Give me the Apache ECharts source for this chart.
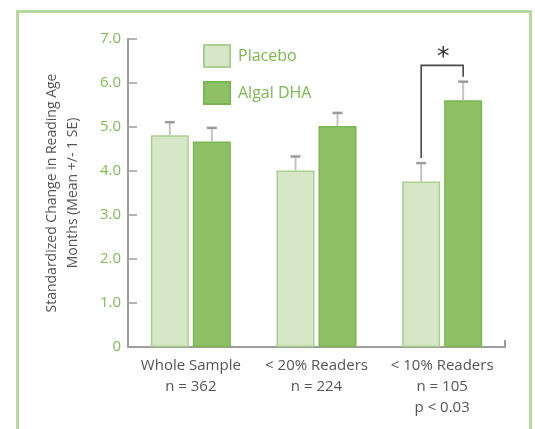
<!DOCTYPE html>
<html>
<head>
<meta charset="utf-8">
<script src="https://cdn.jsdelivr.net/npm/echarts@6/dist/echarts.min.js"></script>
<style>
  html, body { margin: 0; padding: 0; background: #fff; }
  #chart { width: 535px; height: 429px; }
</style>
</head>
<body>
<div id="chart"></div>
<script>
// Reading-age outcomes by reader subgroup
const categories = ['Whole Sample\nn = 362', '< 20% Readers\nn = 224', '< 10% Readers\nn = 105\np < 0.03'];
const placebo = [4.81, 4.01, 3.76];
const algalDha = [4.67, 5.02, 5.61];
const placeboSE = [0.30, 0.32, 0.42];
const algalSE = [0.31, 0.30, 0.42];
const yTicks = [0, 1, 2, 3, 4, 5, 6, 7];
// significance bracket over the third group
const sigGroup = 2;
const sigLevel = 6.4;
const sigLabel = '*';

const FONT = '"Open Sans", "Noto Sans", sans-serif';
const BAR_W = 38;
const BAR_GAP = 4;
const OFFSET = (BAR_W + BAR_GAP) / 2;

const chart = echarts.init(document.getElementById('chart'), null, { renderer: 'canvas' });

function errorSeries(means, ses, sign) {
  return {
    type: 'custom',
    silent: true,
    z: 5,
    data: means.map((m, i) => [i, m, m + ses[i]]),
    renderItem: function (params, api) {
      const base = api.coord([api.value(0), api.value(1)]);
      const top = api.coord([api.value(0), api.value(2)]);
      const x = base[0] + sign * OFFSET;
      return {
        type: 'group',
        children: [
          { type: 'line', shape: { x1: x, y1: base[1], x2: x, y2: top[1] },
            style: { stroke: '#c4c4c4', lineWidth: 2 } },
          { type: 'line', shape: { x1: x - 5, y1: top[1], x2: x + 5, y2: top[1] },
            style: { stroke: '#9c9c9c', lineWidth: 2.5 } }
        ]
      };
    }
  };
}

const bracketSeries = {
  type: 'custom',
  silent: true,
  z: 6,
  data: [[sigGroup, sigLevel, placebo[sigGroup] + placeboSE[sigGroup], algalDha[sigGroup] + algalSE[sigGroup]]],
  renderItem: function (params, api) {
    const ci = api.value(0);
    const lvl = api.coord([ci, api.value(1)]);
    const lTop = api.coord([ci, api.value(2)]);
    const rTop = api.coord([ci, api.value(3)]);
    const xl = lvl[0] - OFFSET, xr = lvl[0] + OFFSET;
    const y = lvl[1];
    return {
      type: 'group',
      children: [
        { type: 'polyline',
          shape: { points: [[xl, lTop[1] - 5], [xl, y], [xr, y], [xr, rTop[1] - 5]] },
          style: { stroke: '#4a4a4a', lineWidth: 1.6, fill: null } },
        { type: 'text',
          style: { text: sigLabel, x: lvl[0] + 1, y: y + 5, align: 'center', verticalAlign: 'bottom',
                   fill: '#333', font: 'normal 25px "DejaVu Sans", ' + FONT } }
      ]
    };
  }
};

chart.setOption({
  animation: false,
  backgroundColor: '#fff',
  textStyle: { fontFamily: FONT },
  graphic: [{
    type: 'rect',
    shape: { x: 17.5, y: 11.5, width: 513, height: 440 },
    style: { fill: null, stroke: '#b7d99f', lineWidth: 3 },
    z: -1, silent: true
  }],
  grid: { left: 128, right: 30, top: 39, bottom: 82 },
  legend: {
    data: ['Placebo', 'Algal DHA'],
    orient: 'vertical',
    left: 198, top: 39,
    itemWidth: 26, itemHeight: 22, itemGap: 13,
    icon: 'rect',
    textStyle: { color: '#7aba4c', fontSize: 16, fontFamily: FONT, padding: [0, 0, 0, 3] }
  },
  xAxis: {
    type: 'category',
    data: categories,
    axisLine: { lineStyle: { color: '#9d9d9d', width: 2 } },
    axisTick: { show: true, inside: true, length: 7, lineStyle: { color: '#9d9d9d', width: 2 },
                interval: function (index) { return index === categories.length - 1; } },
    axisLabel: { interval: 0, color: '#555', fontSize: 15, lineHeight: 21, margin: 8, fontFamily: FONT }
  },
  yAxis: {
    type: 'value',
    min: yTicks[0], max: yTicks[yTicks.length - 1], interval: 1,
    name: 'Standardized Change in Reading Age\nMonths (Mean +/- 1 SE)',
    nameLocation: 'middle',
    nameGap: 44,
    nameTextStyle: { color: '#555', fontSize: 14, lineHeight: 21, fontFamily: FONT },
    splitLine: { show: false },
    axisLine: { show: true, lineStyle: { color: '#9d9d9d', width: 2 } },
    axisTick: { show: true, inside: true, length: 9, lineStyle: { color: '#9d9d9d', width: 1.5 } },
    axisLabel: { color: '#7fbe52', fontSize: 15, margin: 7, fontFamily: FONT,
                 formatter: v => (v === 0 ? '0' : v.toFixed(1)) }
  },
  series: [
    { name: 'Placebo', type: 'bar', data: placebo, barWidth: BAR_W, barGap: (BAR_GAP / BAR_W * 100) + '%',
      itemStyle: { color: '#d6e7c7', borderColor: '#a9d08d', borderWidth: 1.5 } },
    { name: 'Algal DHA', type: 'bar', data: algalDha, barWidth: BAR_W,
      itemStyle: { color: '#8ec166', borderColor: '#7ab652', borderWidth: 1.5 } },
    errorSeries(placebo, placeboSE, -1),
    errorSeries(algalDha, algalSE, 1),
    bracketSeries
  ]
});
</script>
</body>
</html>
